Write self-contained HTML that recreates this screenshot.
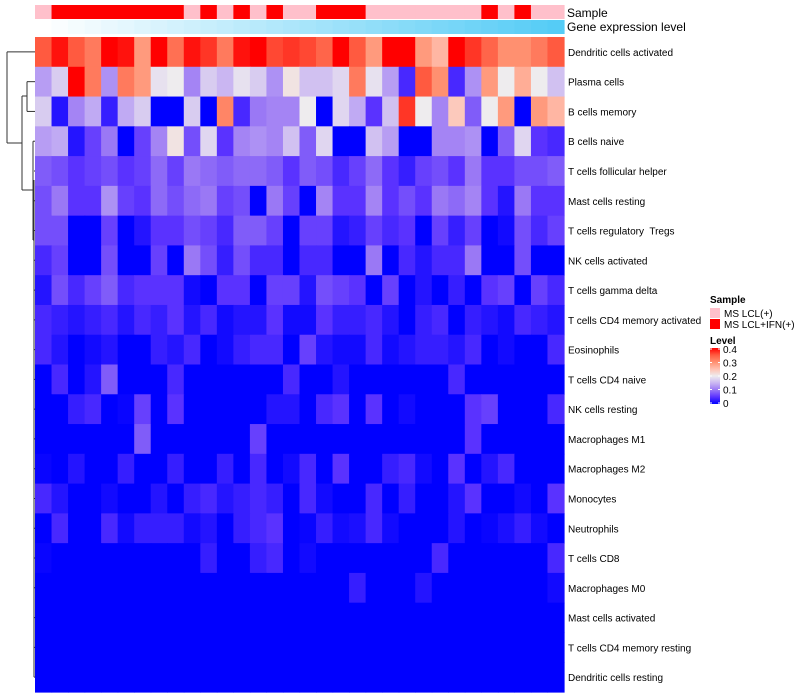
<!DOCTYPE html>
<html><head><meta charset="utf-8"><style>
body{margin:0;background:#fff;font-family:"Liberation Sans",sans-serif}
svg{display:block}
text{font-family:"Liberation Sans",sans-serif;white-space:pre}
</style></head><body>
<svg id="c" width="800" height="700"></svg>
<script>
const rowLabels=["Dendritic cells activated","Plasma cells","B cells memory","B cells naive","T cells follicular helper","Mast cells resting","T cells regulatory  Tregs","NK cells activated","T cells gamma delta","T cells CD4 memory activated","Eosinophils","T cells CD4 naive","NK cells resting","Macrophages M1","Macrophages M2","Monocytes","Neutrophils","T cells CD8","Macrophages M0","Mast cells activated","T cells CD4 memory resting","Dendritic cells resting"];
const sampleGroup=[0,1,1,1,1,1,1,1,1,0,1,0,1,0,1,0,0,1,1,1,0,0,0,0,0,0,0,1,0,1,0,0];
const geneExpr=[0,0.03,0.06,0.09,0.12,0.15,0.18,0.21,0.24,0.27,0.3,0.33,0.36,0.39,0.42,0.45,0.48,0.51,0.54,0.57,0.6,0.63,0.66,0.69,0.72,0.75,0.78,0.81,0.84,0.87,0.9,0.93];
const r0=[.35,.39,.35,.32,.4,.39,.29,.4,.33,.39,.37,.32,.39,.4,.36,.37,.36,.34,.4,.35,.29,.4,.4,.29,.26,.4,.37,.34,.3,.3,.32,.35];
const r1=[.13,.17,.4,.32,.12,.32,.29,.19,.2,.11,.17,.15,.19,.17,.12,.21,.16,.16,.18,.32,.19,.13,.04,.35,.3,.04,.12,.29,.2,.27,.2,.16];
const r2=[.17,.02,.11,.14,.03,.14,.17,0,0,.17,0,.31,.04,.1,.11,.11,.2,0,.18,.14,.05,.16,.37,.2,.11,.24,.08,.2,.29,0,.29,.26];
const r3=[.13,.14,.02,.06,.1,0,.06,.11,.21,.07,.18,.05,.11,.12,.11,.16,.08,.18,0,0,.16,.13,0,0,.11,.11,.12,0,.08,.18,.05,.04];
const r4=[.08,.07,.05,.06,.07,.05,.06,.09,.06,.1,.09,.08,.09,.09,.08,.05,.08,.07,.04,.06,.09,.05,.03,.06,.07,.05,.1,.05,.05,.07,.07,.08];
const r5=[.07,.1,.05,.05,.12,.06,.05,.09,.07,.09,.1,.06,.07,0,.1,.06,0,.11,.05,.05,.11,.05,.07,.05,.1,.09,.11,.05,.02,.1,.05,.05];
const r6=[.07,.07,0,0,.06,0,.02,.05,.05,.07,.06,.04,.08,.08,.06,0,.06,.06,.02,.03,.06,.04,.05,0,.06,.03,.06,0,.01,.07,.04,.06];
const r7=[.04,.06,0,0,.07,0,0,.06,0,.1,.07,.03,.07,.04,.04,0,.04,.04,0,0,.1,0,.04,.02,.04,.04,.1,0,0,.07,0,0];
const r8=[.02,.07,.04,.06,.08,.04,.05,.05,.05,.01,0,.05,.05,0,.06,.06,.02,.07,.06,.05,0,.06,0,.02,0,.03,0,.05,.06,0,.06,.04];
const r9=[.04,.03,.02,.03,.04,.02,.04,.03,.05,.02,.04,.01,.02,.02,.05,.01,.01,.05,.03,.03,.04,.02,0,.03,.04,0,.03,.02,.01,.04,.03,.02];
const r10=[.04,.02,0,.01,.02,0,0,.03,.02,.04,0,.01,.03,.04,.04,0,.06,.02,.01,.01,.04,.01,.02,.03,.03,.02,.04,0,.01,0,0,.04];
const r11=[0,.04,0,.02,.08,0,0,0,.04,0,0,0,0,0,0,.04,0,0,.02,0,0,0,0,0,0,.04,0,0,0,0,0,0];
const r12=[0,0,.03,.04,0,.005,.06,0,.05,0,0,0,0,0,.02,.02,0,.04,.05,0,.05,0,.01,0,0,0,.05,.06,0,0,0,.04];
const r13=[0,0,0,0,0,0,.08,0,0,0,0,0,0,.06,0,0,0,0,0,0,0,0,0,0,0,0,.05,0,0,0,0,0];
const r14=[.005,0,.02,0,0,.03,0,0,.03,0,0,.03,0,.04,0,.01,.04,0,.05,0,0,.03,.04,.01,0,.05,0,.02,.04,0,0,0];
const r15=[.04,.02,0,0,.01,0,0,.02,0,.03,.04,.02,.03,.04,.03,0,.04,.01,0,0,.04,0,.03,0,0,.02,.05,0,0,.01,0,.05];
const r16=[0,.04,0,0,.04,.01,.03,.03,.03,.01,.02,0,.03,.04,.05,0,.005,.03,.01,.015,.04,.01,0,0,0,.02,0,.005,.015,.03,.01,0];
const r17=[.005,0,0,0,0,0,0,0,0,0,.03,0,0,.03,.04,0,.01,0,0,0,0,0,0,0,.04,0,0,0,0,0,0,.04];
const r18=[0,0,0,0,0,0,0,0,0,0,0,0,0,0,0,0,0,0,0,.03,0,0,0,.02,0,0,0,0,0,0,0,.01];
const r19=[0,0,0,0,0,0,0,0,0,0,0,0,0,0,0,0,0,0,0,0,0,0,0,0,0,0,0,0,0,0,0,0];
const r20=[0,0,0,0,0,0,0,0,0,0,0,0,0,0,0,0,0,0,0,0,0,0,0,0,0,0,0,0,0,0,0,0];
const r21=[0,0,0,0,0,0,0,0,0,0,0,0,0,0,0,0,0,0,0,0,0,0,0,0,0,0,0,0,0,0,0,0];
const values=[r0,r1,r2,r3,r4,r5,r6,r7,r8,r9,r10,r11,r12,r13,r14,r15,r16,r17,r18,r19,r20,r21];

const NS="http://www.w3.org/2000/svg";
const svg=document.getElementById('c');
const X0=35,X1=564,Y0=37,Y1=692;
const nC=r0.length,nR=values.length;
const cw=(X1-X0)/nC,rh=(Y1-Y0)/nR;
const xPos=i=>X0+i*cw, yPos=j=>Y0+j*rh;
const stops=[[0,[0,0,255]],[.05,[90,50,255]],[.1,[154,120,245]],[.15,[202,182,242]],[.2,[238,236,238]],[.25,[255,192,176]],[.3,[255,144,112]],[.35,[255,90,64]],[.4,[255,0,0]]];
function col(v){v=Math.max(0,Math.min(.4,v));for(let k=1;k<stops.length;k++){if(v<=stops[k][0]){const a=stops[k-1],b=stops[k],t=(v-a[0])/(b[0]-a[0]);return 'rgb('+a[1].map((c,i)=>Math.round(c+(b[1][i]-c)*t)).join(',')+')';}}return 'rgb(255,0,0)';}
function el(t,a,p){const e=document.createElementNS(NS,t);for(const k in a)e.setAttribute(k,a[k]);(p||svg).appendChild(e);return e;}

const cells=el('g',{});


values.forEach((row,j)=>row.forEach((v,i)=>{
  const r=el('rect',{x:xPos(i),y:yPos(j),width:cw+0.6,height:rh+0.6,fill:col(v)},cells);
  
  
}));
const ann=el('g',{});


sampleGroup.forEach((g,i)=>{
  const r=el('rect',{x:xPos(i),y:5,width:cw+0.6,height:14,fill:g?'#FF0000':'#FFC0CB'},ann);
  
  
});
const ge=el('g',{});


geneExpr.forEach((g,i)=>{
  const c=[255+(72-255)*g,255+(200-255)*g,255+(245-255)*g].map(Math.round);
  const r=el('rect',{x:xPos(i),y:20,width:cw+0.6,height:14,fill:'rgb('+c.join(',')+')'},ge);
  
  
});
let t=el('text',{x:567,y:17,'font-size':12});t.textContent='Sample';


t=el('text',{x:567,y:31,'font-size':12});t.textContent='Gene expression level';


rowLabels.forEach((l,j)=>{
  const tx=el('text',{x:568,y:yPos(j)+rh/2+4,'font-size':10});
  tx.textContent=l;
  
  
});
const cy=j=>yPos(j)+rh/2;
const dg=el('g',{stroke:'#333','stroke-width':1,fill:'none'});


const segs=[
 [7,cy(0),7,143],[7,cy(0),35,cy(0)],[7,143,22,143],
 [22,96,22,190],[22,96,27,96],[27,cy(1),27,cy(2)],[27,cy(1),35,cy(1)],[27,cy(2),35,cy(2)],
 [22,190,33,190],[33,cy(3),33,240],[33,cy(3),35,cy(3)],[33,240,34,240],[34,180,34,cy(21)]
];
segs.forEach(s=>el('path',{d:'M'+s[0]+','+s[1]+'L'+s[2]+','+s[3]},dg));
for(let j=4;j<nR;j++) el('path',{d:'M34,'+cy(j)+'L35,'+cy(j)},dg);
const lg=el('g',{});


t=el('text',{x:710,y:303,'font-size':10,'font-weight':'bold'},lg);t.textContent='Sample';
[['MS LCL(+)','#FFC0CB'],['MS LCL+IFN(+)','#FF0000']].forEach((d,k)=>{
  const r=el('rect',{x:710,y:308+k*11,width:10,height:10,fill:d[1]},lg);
  
  
  const tx=el('text',{x:724,y:317+k*11,'font-size':10},lg);tx.textContent=d[0];
  
  
});
t=el('text',{x:710,y:344,'font-size':10,'font-weight':'bold'},lg);t.textContent='Level';
const defs=el('defs',{});
const grad=el('linearGradient',{id:'lv',x1:0,y1:1,x2:0,y2:0},defs);
stops.forEach(s=>el('stop',{offset:s[0]/.4,'stop-color':col(s[0])},grad));
const cb=el('rect',{x:710,y:348,width:10,height:56,fill:'url(#lv)'},lg);


['0','0.1','0.2','0.3','0.4'].forEach((l,k)=>{
  const yy=403-k*13.5;
  el('path',{d:'M710,'+yy+'h2M718,'+yy+'h2',stroke:'#fff'},lg);
  const tx=el('text',{x:723,y:yy+4,'font-size':10},lg);tx.textContent=l;
  
  
});
</script></body></html>
